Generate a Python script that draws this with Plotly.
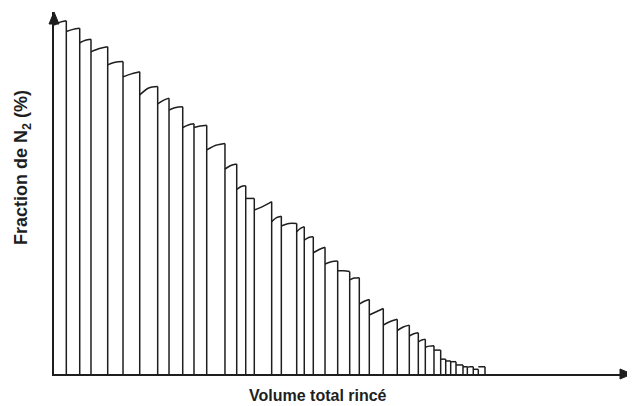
import plotly.graph_objects as go

# Boundaries of each rinse step along the total rinsed volume (arbitrary units)
boundaries = [0, 2.13, 4.45, 6.40, 9.29, 11.94, 14.83, 17.94, 19.90, 22.27, 24.22,
              26.42, 29.58, 31.61, 33.17, 34.65, 37.66, 39.33, 41.99, 43.30, 44.86,
              46.89, 49.08, 51.16, 52.82, 54.55, 56.97, 59.39, 61.47, 63.03, 64.24,
              65.74, 66.90, 67.77, 68.63, 69.55, 70.76, 71.51, 72.54, 73.41, 74.57]

# N2 fraction at the start of each step (after the drop)
step_start = [96.4, 94.6, 91.5, 89.0, 85.4, 82.1, 77.1, 74.6, 72.9, 68.1,
              68.1, 61.9, 56.6, 51.0, 48.5, 45.3, 42.1, 40.9, 39.3, 37.0,
              33.5, 30.4, 28.5, 26.0, 19.3, 16.3, 13.5, 12.0, 10.5, 8.9,
              7.4, 6.6, 4.1, 3.6, 3.4, 2.5, 2.0, 1.9, 1.3, 2.0]

# N2 fraction in the middle of each step
step_mid = [97.2, 95.2, 92.2, 89.9, 86.1, 82.9, 79.0, 75.6, 73.6, 68.8,
            68.5, 63.2, 57.6, 51.8, 48.5, 46.3, 43.2, 41.6, 40.2, 37.7,
            34.4, 31.0, 28.5, 26.5, 20.1, 17.2, 14.5, 13.0, 11.1, 9.4,
            7.7, 6.6, 4.1, 3.6, 3.4, 2.5, 2.0, 2.0, 1.3, 2.0]

# N2 fraction at the end of each step (before the next drop)
step_end = [97.6, 95.5, 92.5, 90.4, 86.3, 83.5, 79.4, 76.2, 73.8, 69.1,
            68.7, 63.7, 58.0, 52.0, 48.5, 47.6, 43.6, 41.6, 40.7, 37.9,
            35.0, 31.2, 28.3, 26.6, 20.6, 18.1, 15.1, 13.5, 11.4, 9.6,
            7.8, 6.6, 4.1, 3.6, 3.4, 2.5, 2.0, 2.0, 1.3, 2.0]

x_title = "Volume total rincé"
y_title = "Fraction de N<sub>2</sub> (%)"

INK = "#1e1e1e"

# vertical separators (baseline up to the level reached at the end of the step)
vx, vy = [], []
for i in range(len(step_end)):
    x1 = boundaries[i + 1]
    vx += [x1, x1, None]
    vy += [0, step_end[i], None]

# curved tops of each step
tx, ty = [], []
for i in range(len(step_start)):
    x0, x1 = boundaries[i], boundaries[i + 1]
    tx += [x0, (x0 + x1) / 2, x1, None]
    ty += [step_start[i], step_mid[i], step_end[i], None]

fig = go.Figure()
fig.add_trace(go.Scatter(x=vx, y=vy, mode="lines", line=dict(color=INK, width=1.5),
                         hoverinfo="skip", showlegend=False, connectgaps=False))
fig.add_trace(go.Scatter(x=tx, y=ty, mode="lines",
                         line=dict(color=INK, width=1.5, shape="spline", smoothing=0.8),
                         hoverinfo="skip", showlegend=False, connectgaps=False))

axis_common = dict(showgrid=False, zeroline=False, showticklabels=False,
                   ticks="", showline=True, linecolor=INK, linewidth=2)

# the page body adds an 8 px offset; figure is sized so plot area matches
W, H = 627, 398
ML, MR, MT, MB = 46, 3, 4, 32
pw, ph = W - ML - MR, H - MT - MB

def px_to_paper(px, py):
    # px, py in page pixels
    fx, fy = px - 8, py - 8
    return (fx - ML) / pw, (H - MB - fy) / ph

xt = px_to_paper(318, 395)
yt = px_to_paper(22, 168)

fig.update_layout(
    width=W, height=H,
    margin=dict(l=ML, r=MR, t=MT, b=MB),
    plot_bgcolor="white", paper_bgcolor="white",
    xaxis=dict(range=[0, 100], **axis_common),
    yaxis=dict(range=[0, 100], **axis_common),
    font=dict(family="Liberation Sans, Arial, sans-serif", color=INK),
    shapes=[
        dict(type="path", xref="paper", yref="paper", xsizemode="pixel", ysizemode="pixel",
             xanchor=1, yanchor=0, path="M 0 0 L -12 5 L -12 -5 Z",
             fillcolor=INK, line=dict(color=INK, width=1)),
        dict(type="path", xref="paper", yref="paper", xsizemode="pixel", ysizemode="pixel",
             xanchor=0, yanchor=1, path="M 0 0 L -5 -12 L 5 -12 Z",
             fillcolor=INK, line=dict(color=INK, width=1)),
    ],
    annotations=[
        dict(x=xt[0], y=xt[1], xref="paper", yref="paper", text="<b>" + x_title + "</b>",
             showarrow=False, font=dict(size=16), xanchor="center", yanchor="middle"),
        dict(x=yt[0], y=yt[1], xref="paper", yref="paper", text="<b>" + y_title + "</b>",
             showarrow=False, textangle=-90, font=dict(size=18),
             xanchor="center", yanchor="middle"),
    ],
)

fig.write_html("out.html")
